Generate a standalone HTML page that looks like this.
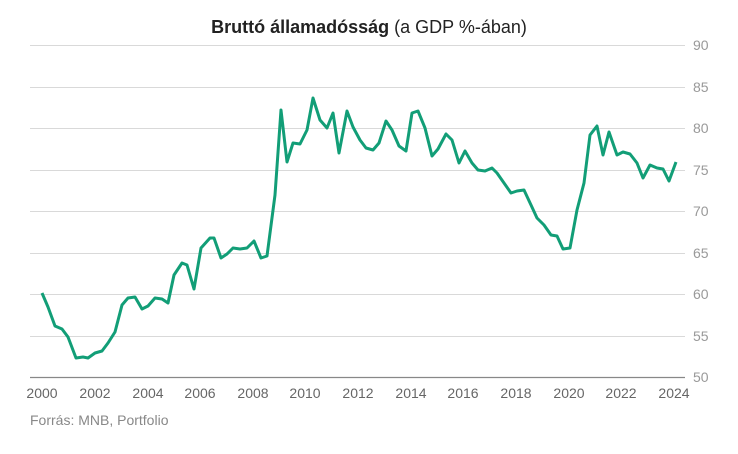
<!DOCTYPE html>
<html><head><meta charset="utf-8"><style>
body{margin:0;background:#fff;width:738px;height:449px;overflow:hidden;font-family:"Liberation Sans",sans-serif}
</style></head><body>
<svg width="738" height="449" xmlns="http://www.w3.org/2000/svg" font-family="Liberation Sans, sans-serif">
<text x="369" y="33" text-anchor="middle" font-size="18" fill="#222"><tspan font-weight="bold">Bruttó államadósság</tspan> (a GDP %-ában)</text>
<g stroke="#d9d9d9" stroke-width="1">
<line x1="30" x2="685" y1="45.5" y2="45.5"/><line x1="30" x2="685" y1="87.5" y2="87.5"/>
<line x1="30" x2="685" y1="128.5" y2="128.5"/><line x1="30" x2="685" y1="170.5" y2="170.5"/>
<line x1="30" x2="685" y1="211.5" y2="211.5"/><line x1="30" x2="685" y1="253.5" y2="253.5"/>
<line x1="30" x2="685" y1="294.5" y2="294.5"/><line x1="30" x2="685" y1="336.5" y2="336.5"/>
</g>
<line x1="30" x2="685" y1="377.5" y2="377.5" stroke="#888" stroke-width="1.2"/>
<g font-size="14" fill="#999" text-anchor="start">
<text x="693" y="50">90</text><text x="693" y="92">85</text><text x="693" y="133">80</text>
<text x="693" y="175">75</text><text x="693" y="216">70</text><text x="693" y="258">65</text>
<text x="693" y="299">60</text><text x="693" y="341">55</text><text x="693" y="382">50</text>
</g>
<g font-size="14" fill="#666" text-anchor="middle">
<text x="42" y="398">2000</text><text x="95" y="398">2002</text><text x="148" y="398">2004</text>
<text x="200" y="398">2006</text><text x="253" y="398">2008</text><text x="305" y="398">2010</text>
<text x="358" y="398">2012</text><text x="411" y="398">2014</text><text x="463" y="398">2016</text>
<text x="516" y="398">2018</text><text x="569" y="398">2020</text><text x="621" y="398">2022</text>
<text x="674" y="398">2024</text>
</g>
<text x="30" y="425" font-size="14" fill="#888">Forrás: MNB, Portfolio</text>
<polyline fill="none" stroke="#129e77" stroke-width="3" stroke-linejoin="round" points="42,293 48,307 55,326 62,329 68,337 76,358 83,357 88,358 95,353 102,351 108,343 115,332 122,305 128,298 135,297 142,309 148,306 155,298 162,299 168,303 174,275 182,263 187,265 194,289 201,248 210,238 214,238 221,258 227,254 233,248 240,249 247,248 254,241 261,258 267,256 275,195 281,110 287,162 293,143 300,144 307,130 313,98 320,120 327,128 333,113 339,153 347,111 353,127 360,140 366,148 373,150 379,143 386,121 392,130 399,146 406,151 412,113 418,111 425,128 432,156 438,149 446,134 452,140 459,163 465,151 472,163 478,170 485,171 492,168 497,173 504,183 511,193 517,191 524,190 531,205 537,218 544,225 551,235 557,236 563,249 570,248 577,210 584,183 590,135 597,126 603,155 609,132 617,155 623,152 630,154 637,163 643,178 650,165 657,168 663,169 669,181 676,162"/>
</svg>
</body></html>
